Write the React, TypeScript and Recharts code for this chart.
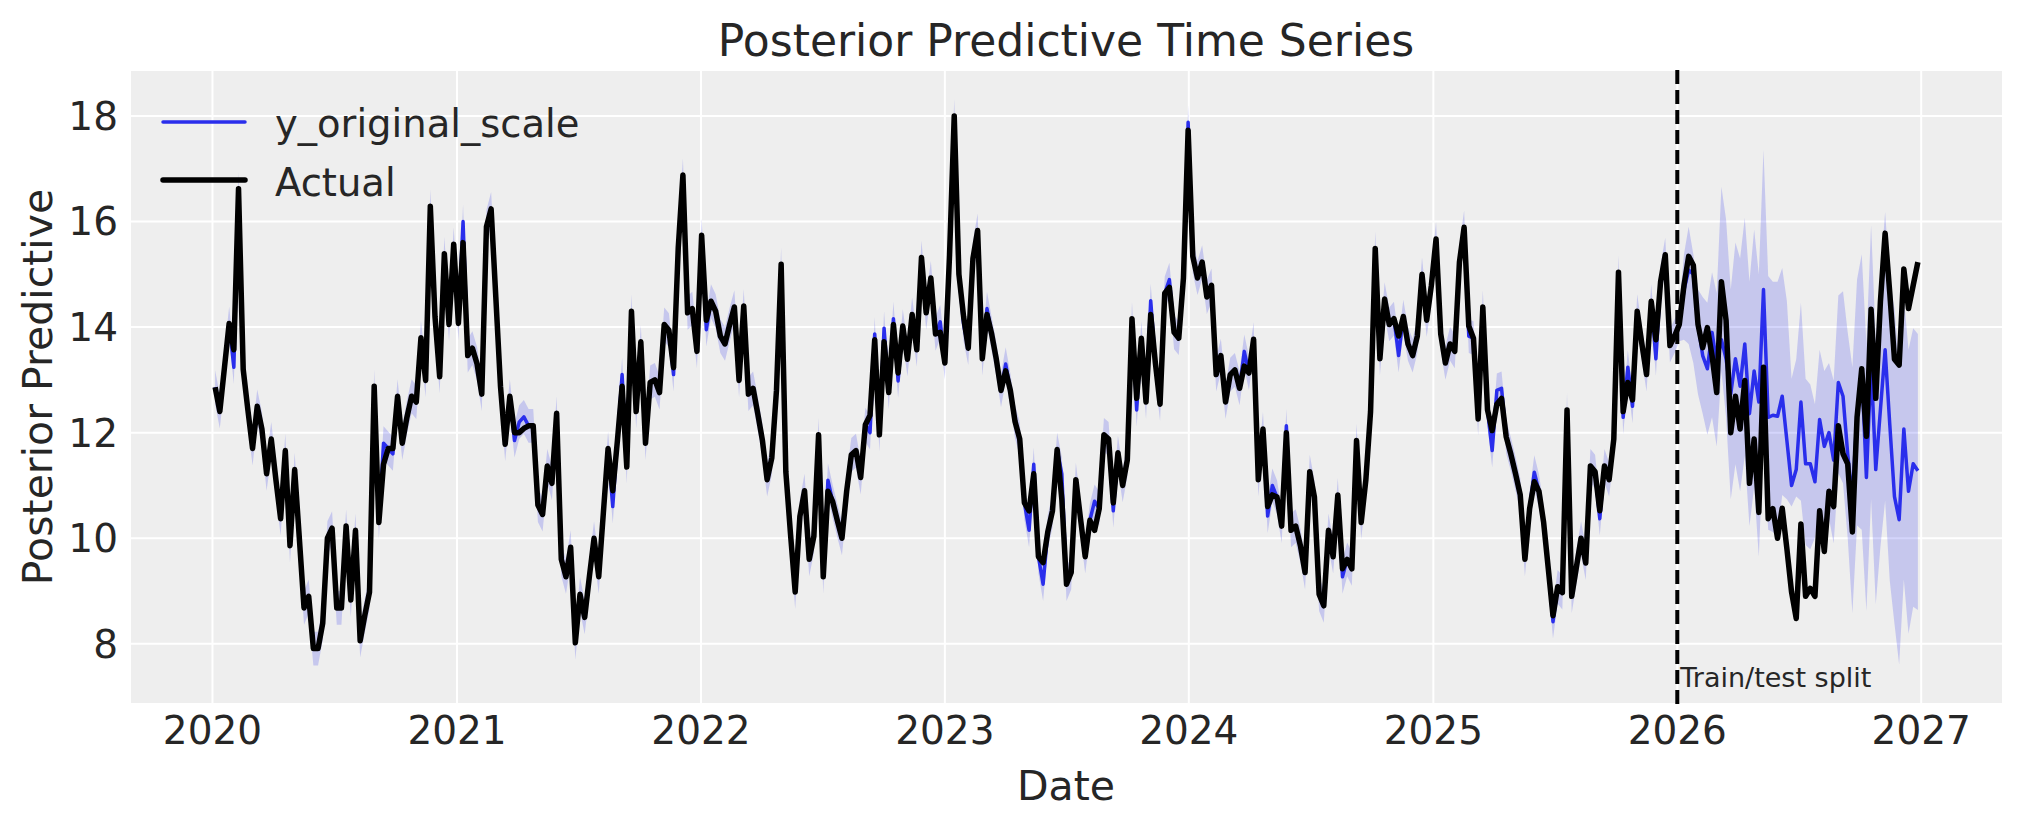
import React from 'react'
import {
  Area,
  CartesianGrid,
  ComposedChart,
  Legend,
  Line,
  ReferenceLine,
  XAxis,
  YAxis,
} from 'recharts'

// weekly observations, first week 2020-01-05
const startDate = Date.UTC(2020, 0, 5)
const weekMs = 7 * 24 * 3600 * 1000
const splitDate = Date.UTC(2026, 0, 1)
const trainCount = 314

const yearTicks = [2020, 2021, 2022, 2023, 2024, 2025, 2026, 2027]
const valueTicks = [8, 10, 12, 14, 16, 18]

// observed series (train + test)
const actual = [
  12.86, 12.4, 13.24, 14.07, 13.57, 16.62, 13.2, 12.43, 11.7, 12.5, 12.07, 11.22, 11.88, 11.1, 10.37, 11.66, 9.86, 11.3, 10.0, 8.68,
  8.9, 7.91, 7.91, 8.39, 10.0, 10.19, 8.68, 8.68, 10.23, 8.83, 10.15, 8.06, 8.54, 8.98, 12.88,
  10.3, 11.4, 11.7, 11.7, 12.69, 11.8, 12.29, 12.69, 12.58, 13.8, 12.99, 16.29, 14.2, 13.06, 15.39, 14.05, 15.57, 14.07, 15.6, 13.46,
  13.6, 13.3, 12.73, 15.9, 16.24, 14.57, 12.88, 11.78, 12.69, 12.0, 12.0, 12.08, 12.13, 12.13, 10.63, 10.45, 11.37, 11.04, 12.37, 9.6,
  9.27, 9.83, 8.02, 8.94, 8.5, 9.27, 10.0, 9.27, 10.49, 11.7, 10.9, 11.85,
  12.88, 11.35, 14.3, 12.4, 13.72, 11.8, 12.95, 13.0, 12.76, 14.05, 13.94, 13.23, 15.5, 16.88, 14.27, 14.35, 13.54, 15.74, 14.13, 14.49,
  14.3, 13.83, 13.68, 14.05, 14.38, 12.99, 14.4, 12.73, 12.84, 12.36, 11.85, 11.11, 11.52, 12.8, 15.19, 11.26, 10.08, 8.98, 10.41, 10.9,
  9.6, 10.04, 11.96, 9.27, 10.89, 10.7, 10.34, 10.0, 10.89, 11.58, 11.66, 11.15, 12.15,
  12.33, 13.76, 11.96, 13.72, 12.76, 14.05, 13.13, 14.02, 13.39, 14.24, 13.57, 15.32, 14.27, 14.93, 13.87, 13.9, 13.32, 15.37, 18.0, 15.0,
  14.2, 13.6, 15.3, 15.83, 13.4, 14.24, 13.87, 13.39, 12.8, 13.17, 12.8, 12.21, 11.88, 10.67, 10.52, 11.22, 9.65, 9.54, 10.12, 10.52,
  11.68, 10.74, 9.13, 9.35, 11.11, 10.37, 9.65, 10.34, 10.15, 10.56, 11.96, 11.88, 10.67,
  11.62, 11.0, 11.48, 14.16, 12.65, 13.79, 12.58, 14.24, 13.32, 12.54, 14.64, 14.75, 13.9, 13.79, 14.93, 17.73, 15.34, 14.93, 15.23, 14.57,
  14.79, 13.1, 13.46, 12.58, 13.1, 13.19, 12.84, 13.26, 13.13, 13.77, 11.11, 12.07, 10.6, 10.82, 10.78, 10.23, 12.0, 10.15, 10.23, 9.86,
  9.35, 11.26, 10.78, 8.94, 8.72, 10.15, 9.65, 10.82, 9.42, 9.6, 9.42, 11.85,
  10.3, 11.11, 12.4, 15.49, 13.4, 14.53, 14.05, 14.16, 13.83, 14.2, 13.68, 13.46, 13.83, 15.0, 14.13, 14.79, 15.67, 13.87, 13.32, 13.68,
  13.54, 15.23, 15.89, 14.02, 13.79, 12.26, 14.38, 12.43, 12.04, 12.54, 12.65, 11.92, 11.59, 11.22, 10.82, 9.6, 10.56, 11.07, 10.89, 10.3,
  9.42, 8.53, 9.08, 8.97, 12.43, 8.9, 9.45, 10.0, 9.53, 11.37, 11.26, 10.52, 11.37,
  11.11, 11.88, 15.04, 12.4, 12.95, 12.62, 14.3, 13.68, 13.1, 14.49, 13.76, 14.86, 15.37, 13.65, 13.83, 14.05,
  // test period
  14.79, 15.34, 15.17, 14.05, 13.61, 13.99, 13.46, 12.76, 14.86, 14.13, 12.0, 12.69, 12.07, 12.99, 11.04, 11.88, 10.49, 13.24, 10.37, 10.56,
  10.0, 10.57, 9.8, 8.98, 8.48, 10.27, 8.9, 9.05, 8.9, 10.52, 9.75, 10.89, 10.6, 12.13, 11.6, 11.41, 10.12, 12.29, 13.21, 11.93,
  14.34, 12.65, 14.49, 15.78, 14.64, 13.39, 13.28, 15.1, 14.35, 14.79, 15.23,
]

// posterior predictive mean (y_original_scale)
const predicted = [
  12.86, 12.4, 13.24, 14.07, 13.24, 16.62, 13.2, 12.43, 11.7, 12.5, 12.07, 11.22, 11.88, 11.1, 10.37, 11.66, 9.86, 11.3, 10.0, 8.68,
  8.9, 7.91, 7.91, 8.39, 10.0, 10.19, 8.68, 8.68, 10.23, 8.83, 10.15, 8.06, 8.54, 8.98, 12.88,
  10.3, 11.8, 11.7, 11.6, 12.69, 11.8, 12.29, 12.69, 12.58, 13.8, 12.99, 16.29, 14.2, 13.06, 15.39, 14.05, 15.57, 14.07, 16.0, 13.46,
  13.6, 13.3, 12.73, 15.9, 16.24, 14.57, 12.88, 11.78, 12.69, 11.85, 12.2, 12.3, 12.13, 12.13, 10.63, 10.45, 11.37, 11.04, 12.37, 9.6,
  9.27, 9.83, 8.02, 8.94, 8.5, 9.27, 10.0, 9.27, 10.49, 11.7, 10.6, 11.85,
  13.1, 11.35, 14.3, 12.4, 13.72, 11.8, 12.95, 13.0, 12.76, 14.05, 13.94, 13.1, 15.5, 16.88, 14.27, 14.35, 13.54, 15.74, 13.95, 14.49,
  14.3, 13.83, 13.68, 14.05, 14.38, 12.99, 14.4, 12.73, 12.84, 12.36, 11.85, 11.11, 11.52, 12.8, 15.19, 11.26, 10.08, 8.98, 10.41, 10.9,
  9.6, 10.04, 11.96, 9.27, 11.1, 10.7, 10.34, 10.0, 10.89, 11.58, 11.66, 11.15, 12.15,
  12.0, 13.87, 11.96, 13.98, 12.76, 14.16, 12.98, 14.02, 13.39, 14.24, 13.57, 15.32, 14.27, 14.93, 13.87, 14.1, 13.32, 15.37, 18.0, 15.0,
  14.05, 13.6, 15.3, 15.83, 13.4, 14.35, 13.87, 13.39, 12.8, 13.3, 12.8, 12.21, 11.88, 10.67, 10.15, 11.4, 9.65, 9.13, 10.12, 10.52,
  11.68, 11.22, 9.13, 9.35, 11.11, 10.37, 9.65, 10.34, 10.7, 10.56, 11.96, 11.88, 10.52,
  11.62, 11.0, 11.48, 14.16, 12.43, 13.79, 12.58, 14.5, 13.32, 12.54, 14.64, 14.9, 13.9, 13.79, 14.93, 17.88, 15.34, 14.93, 15.23, 14.57,
  14.79, 13.1, 13.46, 12.58, 13.1, 13.19, 12.84, 13.54, 13.13, 13.77, 11.11, 12.07, 10.42, 11.0, 10.78, 10.23, 12.13, 10.15, 10.23, 9.86,
  9.35, 11.26, 10.78, 8.94, 8.72, 10.15, 9.65, 10.82, 9.27, 9.6, 9.42, 11.85,
  10.3, 11.11, 12.4, 15.49, 13.4, 14.53, 14.05, 14.16, 13.46, 14.2, 13.68, 13.46, 13.83, 15.0, 14.13, 14.79, 15.67, 13.87, 13.32, 13.68,
  13.54, 15.23, 15.89, 13.83, 13.79, 12.26, 14.38, 12.43, 11.66, 12.8, 12.84, 11.92, 11.59, 11.22, 10.82, 9.6, 10.56, 11.25, 10.89, 10.3,
  9.42, 8.42, 9.08, 8.97, 12.43, 8.9, 9.45, 10.0, 9.53, 11.37, 11.26, 10.37, 11.37,
  11.11, 11.88, 15.04, 12.29, 13.24, 12.5, 14.3, 13.68, 13.1, 14.49, 13.4, 14.86, 15.37, 13.65, 13.83, 14.05,
  // test period
  14.7, 15.08, 15.0, 14.05, 13.46, 13.21, 13.9, 13.32, 13.76, 13.4, 12.73, 13.4, 12.88, 13.68, 12.36, 13.17, 12.58, 14.71, 12.29, 12.33,
  12.31, 12.69, 11.85, 11.0, 11.3, 12.58, 11.41, 11.41, 11.07, 12.25, 11.74, 12.0, 11.48, 12.95, 12.69, 11.6, 10.74, 12.37, 13.2, 11.15,
  13.32, 11.3, 12.44, 13.57, 12.15, 10.79, 10.35, 12.07, 10.89, 11.41, 11.28,
]

// HDI band in the test period
const testLower = [
  13.76, 13.68, 13.32, 12.73, 12.36, 11.96, 12.29, 11.74, 13.17, 12.29, 10.74, 11.4, 10.89, 11.56, 10.23, 10.97, 9.65, 11.85, 10.16, 10.12,
  10.01, 10.82, 10.74, 10.6, 10.79, 10.71, 9.87, 9.79, 10.01, 10.53, 10.24, 10.38, 9.9, 11.23, 11.04, 10.01, 8.58, 10.24, 10.16, 8.62,
  10.74, 8.75, 9.84, 10.71, 9.19, 8.38, 7.61, 9.22, 8.19, 8.7, 8.64,
]
const testUpper = [
  15.38, 15.9, 15.38, 14.71, 14.57, 14.46, 15.04, 14.64, 16.66, 16.04, 14.71, 15.6, 15.3, 16.07, 14.86, 15.85, 15.0, 17.36, 14.97, 14.86,
  14.86, 15.12, 14.49, 13.02, 13.39, 14.46, 13.02, 12.91, 12.54, 13.57, 13.17, 13.32, 12.99, 14.6, 14.68, 13.9, 13.24, 14.9, 15.38, 13.68,
  15.93, 13.76, 15.0, 16.18, 14.9, 14.35, 13.28, 14.57, 13.57, 13.98, 13.87,
]
// the training band is thin, about this far either side of the mean
const trainHdiHalfWidth = 0.32

const rows = actual.map((a, i) => {
  const p = predicted[i]
  const band =
    i >= trainCount
      ? [testLower[i - trainCount], testUpper[i - trainCount]]
      : [p - trainHdiHalfWidth, p + trainHdiHalfWidth]
  return { t: startDate + i * weekMs, actual: a, predicted: p, band }
})

const first = rows[0].t
const last = rows[rows.length - 1].t
const pad = (last - first) * 0.05

const FONT = '"DejaVu Sans", sans-serif'
const TEXT = '#262626'
const BLUE = '#2a2eec'

function LegendBox() {
  return (
    <svg width={460} height={120} style={{ display: 'block', overflow: 'visible' }}>
      <line x1={13} x2={95} y1={32} y2={32} stroke={BLUE} strokeWidth={3.5} strokeLinecap="round" />
      <line x1={13} x2={95} y1={90} y2={90} stroke="#000" strokeWidth={5.5} strokeLinecap="round" />
      <text x={125} y={46.5} fontSize={38.5} fontFamily={FONT} fill={TEXT}>y_original_scale</text>
      <text x={125} y={106} fontSize={38.5} fontFamily={FONT} fill={TEXT}>Actual</text>
    </svg>
  )
}

export default function App() {
  return (
    <div style={{ position: 'absolute', left: 0, top: 0, width: 2023, height: 823, background: '#fff' }}>
      <ComposedChart
        width={2023}
        height={823}
        data={rows}
        margin={{ top: 70, right: 20, left: 0, bottom: 0 }}
      >
        <CartesianGrid fill="#eeeeee" fillOpacity={1} stroke="#ffffff" strokeWidth={2} />
        <XAxis
          dataKey="t"
          type="number"
          scale="time"
          domain={[first - pad, last + pad]}
          allowDataOverflow
          ticks={yearTicks.map((y) => Date.UTC(y, 0, 1))}
          tickFormatter={(v) => String(new Date(v).getUTCFullYear())}
          height={119}
          axisLine={false}
          tickLine={false}
          tickSize={6}
          tickMargin={6}
          tick={{ fontSize: 39, fontFamily: FONT, fill: TEXT }}
        />
        <YAxis
          type="number"
          domain={[6.86, 18.87]}
          allowDataOverflow
          ticks={valueTicks}
          width={130}
          axisLine={false}
          tickLine={false}
          tickSize={6}
          tickMargin={6}
          tick={{ fontSize: 39, fontFamily: FONT, fill: TEXT }}
        />
        <Area
          dataKey="band"
          type="linear"
          stroke="none"
          fill={BLUE}
          fillOpacity={0.2}
          isAnimationActive={false}
          activeDot={false}
        />
        <Line
          dataKey="predicted"
          type="linear"
          stroke={BLUE}
          strokeWidth={3.5}
          strokeLinejoin="round"
          dot={false}
          activeDot={false}
          isAnimationActive={false}
        />
        <Line
          dataKey="actual"
          type="linear"
          stroke="#000000"
          strokeWidth={5.5}
          strokeLinejoin="round"
          dot={false}
          activeDot={false}
          isAnimationActive={false}
        />
        <ReferenceLine
          x={splitDate}
          stroke="#000000"
          strokeWidth={4}
          strokeDasharray="14 6"
          label={(props: any) => {
            const vb = props.viewBox
            return (
              <text x={vb.x + 3} y={vb.y + vb.height - 17} fontSize={27} fontFamily={FONT} fill={TEXT}>
                Train/test split
              </text>
            )
          }}
        />
        <Legend
          layout="vertical"
          align="center"
          verticalAlign="middle"
          content={() => <LegendBox />}
          wrapperStyle={{ left: 150, top: 90, width: 460, height: 120 }}
        />
      </ComposedChart>
      <svg
        width={2023}
        height={823}
        style={{ position: 'absolute', left: 0, top: 0, pointerEvents: 'none' }}
      >
        <text x={1066} y={56} textAnchor="middle" fontSize={44} fontFamily={FONT} fill={TEXT}>
          Posterior Predictive Time Series
        </text>
        <text x={1066} y={800} textAnchor="middle" fontSize={41} fontFamily={FONT} fill={TEXT}>
          Date
        </text>
        <text
          x={52}
          y={387}
          textAnchor="middle"
          fontSize={41}
          fontFamily={FONT}
          fill={TEXT}
          transform="rotate(-90 52 387)"
        >
          Posterior Predictive
        </text>
      </svg>
    </div>
  )
}
